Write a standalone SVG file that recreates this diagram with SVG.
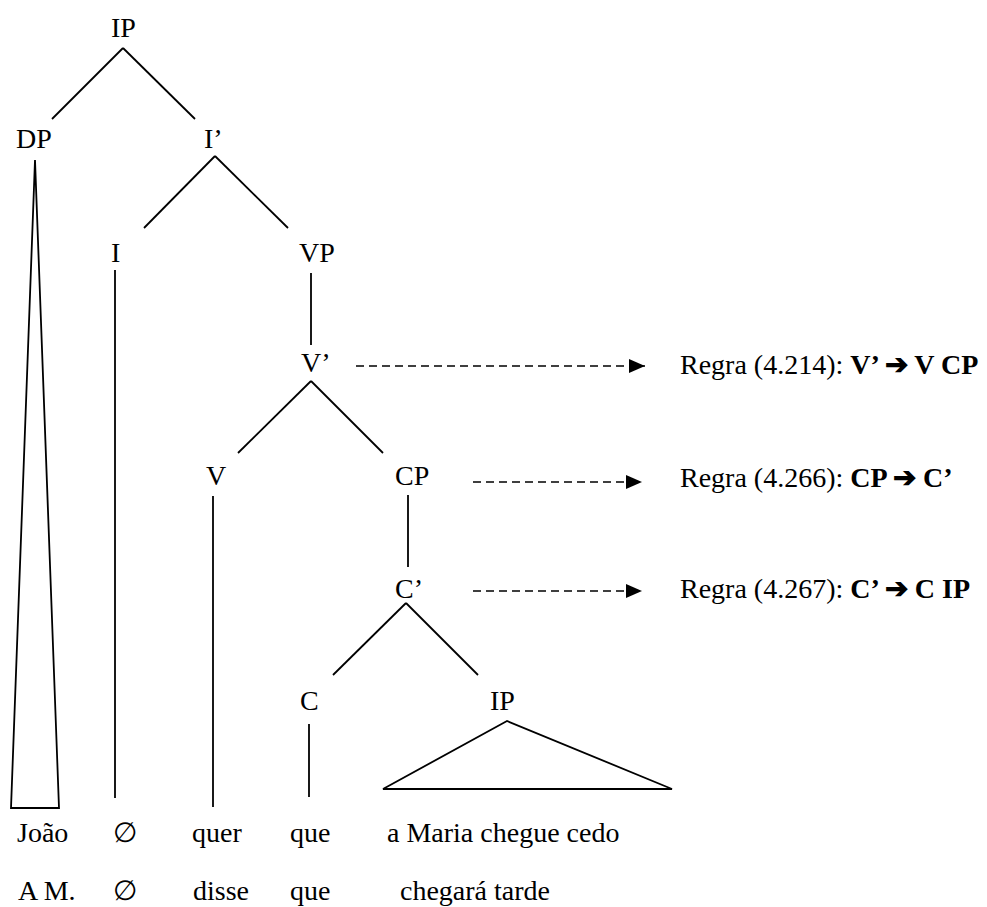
<svg xmlns="http://www.w3.org/2000/svg" width="987" height="907" viewBox="0 0 987 907">
<style>
.b{font-weight:bold}
.e{stroke:#000;stroke-width:1.8;fill:none}
.d{stroke:#000;stroke-width:1.6;fill:none;stroke-dasharray:8 5}
</style>
<defs>
<marker id="ah" markerUnits="userSpaceOnUse" markerWidth="17" markerHeight="15" refX="16" refY="7" orient="auto">
<path d="M0,0 L16,7 L0,14 z" fill="#000"/>
</marker>
</defs>
<rect width="987" height="907" fill="#fff"/>
<g id="connectors">
<line class="e" x1="123" y1="48" x2="52" y2="119"/>
<line class="e" x1="123" y1="48" x2="195" y2="119"/>
<polygon class="e" points="35,160 11,808 59,808"/>
<line class="e" x1="215" y1="156" x2="144" y2="228"/>
<line class="e" x1="215" y1="156" x2="288" y2="228"/>
<line class="e" x1="115" y1="270" x2="115" y2="798"/>
<line class="e" x1="311" y1="273" x2="311" y2="345"/>
<line class="e" x1="311" y1="381" x2="238" y2="453"/>
<line class="e" x1="311" y1="381" x2="383" y2="453"/>
<line class="e" x1="213" y1="496" x2="213" y2="807"/>
<line class="e" x1="408" y1="495" x2="408" y2="567"/>
<line class="e" x1="406" y1="603" x2="333" y2="675"/>
<line class="e" x1="406" y1="603" x2="478" y2="675"/>
<line class="e" x1="309" y1="724" x2="309" y2="797"/>
<polygon class="e" points="507,721 383,789 672,789"/>
<line class="d" x1="356" y1="366" x2="645" y2="366" marker-end="url(#ah)"/>
<line class="d" x1="473" y1="482" x2="642" y2="482" marker-end="url(#ah)"/>
<line class="d" x1="473" y1="591" x2="642" y2="591" marker-end="url(#ah)"/>
</g>
<g id="node-IP"><text x="111" y="37" font-family="Liberation Serif" font-size="28">IP</text></g>
<g id="node-DP"><text x="16" y="148" font-family="Liberation Serif" font-size="28">DP</text></g>
<g id="node-I1"><text x="204" y="148" font-family="Liberation Serif" font-size="28">I’</text></g>
<g id="node-I"><text x="111" y="262" font-family="Liberation Serif" font-size="28">I</text></g>
<g id="node-VP"><text x="299" y="262" font-family="Liberation Serif" font-size="28">VP</text></g>
<g id="node-V1"><text x="301" y="372" font-family="Liberation Serif" font-size="28">V’</text></g>
<g id="node-V"><text x="206" y="485" font-family="Liberation Serif" font-size="28">V</text></g>
<g id="node-CP"><text x="395" y="485" font-family="Liberation Serif" font-size="28">CP</text></g>
<g id="node-C1"><text x="395" y="598" font-family="Liberation Serif" font-size="28">C’</text></g>
<g id="node-C"><text x="300" y="710" font-family="Liberation Serif" font-size="28">C</text></g>
<g id="node-IP2"><text x="490" y="710" font-family="Liberation Serif" font-size="28">IP</text></g>
<g id="rule1"><text x="680" y="374" font-family="Liberation Serif" font-size="28">Regra (4.214): <tspan font-weight="bold">V’ ➔ V CP</tspan></text></g>
<g id="rule2"><text x="680" y="487" font-family="Liberation Serif" font-size="28">Regra (4.266): <tspan font-weight="bold">CP ➔ C’</tspan></text></g>
<g id="rule3"><text x="680" y="598" font-family="Liberation Serif" font-size="28">Regra (4.267): <tspan font-weight="bold">C’ ➔ C IP</tspan></text></g>
<g id="words1">
<text x="17" y="842" font-family="Liberation Serif" font-size="28">João</text>
<text x="113" y="842" font-family="Liberation Serif" font-size="28">∅</text>
<text x="192" y="842" font-family="Liberation Serif" font-size="28">quer</text>
<text x="290" y="842" font-family="Liberation Serif" font-size="28">que</text>
<text x="387" y="842" font-family="Liberation Serif" font-size="28">a Maria chegue cedo</text>
</g>
<g id="words2">
<text x="18" y="900" font-family="Liberation Serif" font-size="28">A M.</text>
<text x="113" y="900" font-family="Liberation Serif" font-size="28">∅</text>
<text x="193" y="900" font-family="Liberation Serif" font-size="28">disse</text>
<text x="290" y="900" font-family="Liberation Serif" font-size="28">que</text>
<text x="400" y="900" font-family="Liberation Serif" font-size="28">chegará tarde</text>
</g>
</svg>
